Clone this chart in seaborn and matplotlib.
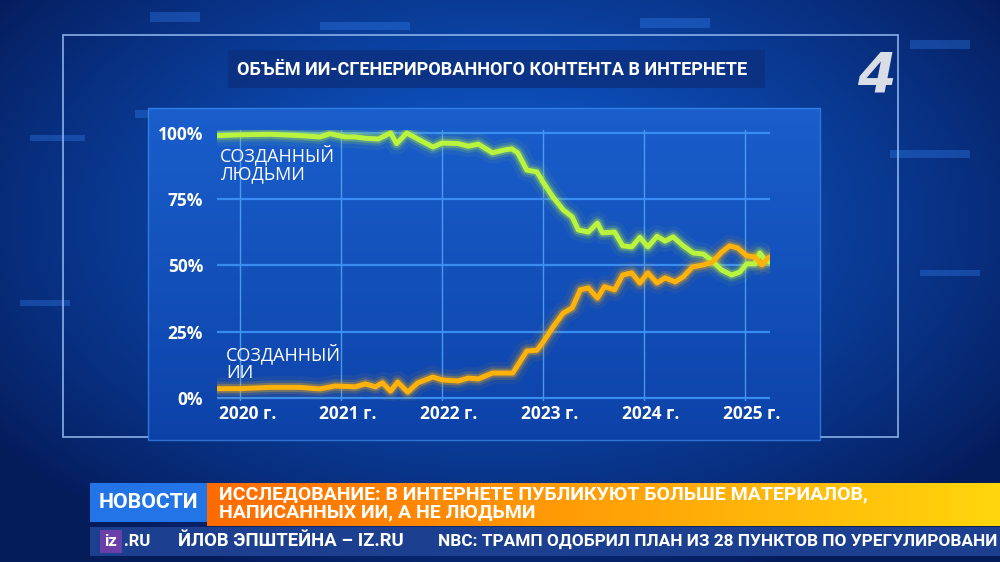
import numpy as np
import pandas as pd
import matplotlib.pyplot as plt
import matplotlib.patches as mpatches
import matplotlib.transforms as mtransforms
import seaborn as sns

# Данные (доля контента, %)
human_years = [2019.78, 2020.00, 2020.30, 2020.59, 2020.79, 2020.89, 2021.04, 2021.14,
               2021.24, 2021.37, 2021.49, 2021.55, 2021.65, 2021.76, 2021.91, 2022.00,
               2022.16, 2022.26, 2022.36, 2022.50, 2022.62, 2022.69, 2022.75, 2022.84,
               2022.94, 2023.00, 2023.10, 2023.20, 2023.29, 2023.35, 2023.45, 2023.54,
               2023.59, 2023.71, 2023.79, 2023.88, 2023.96, 2024.04, 2024.13, 2024.21,
               2024.29, 2024.39, 2024.49, 2024.59, 2024.67, 2024.77, 2024.87, 2024.95,
               2025.02, 2025.10, 2025.15, 2025.20, 2025.25]
human_share = [99.0, 99.3, 99.5, 99.0, 98.5, 99.7, 98.5, 98.5,
               98.0, 97.7, 100.0, 96.0, 100.0, 97.7, 94.7, 96.2,
               96.0, 95.0, 95.8, 92.5, 93.6, 94.0, 92.5, 86.0,
               85.3, 81.5, 75.8, 71.0, 68.3, 63.4, 62.6, 66.0,
               62.3, 62.6, 57.4, 57.0, 60.6, 57.0, 61.0, 59.2,
               60.8, 57.4, 54.7, 54.3, 52.0, 48.3, 46.4, 47.5,
               50.6, 50.6, 54.7, 52.0, 51.3]

ai_years = [2019.78, 2020.00, 2020.30, 2020.59, 2020.79, 2020.94, 2021.14, 2021.24,
            2021.34, 2021.41, 2021.49, 2021.56, 2021.66, 2021.76, 2021.91, 2022.00,
            2022.16, 2022.26, 2022.36, 2022.50, 2022.70, 2022.84, 2022.94, 2023.00,
            2023.10, 2023.20, 2023.29, 2023.37, 2023.45, 2023.54, 2023.61, 2023.71,
            2023.79, 2023.88, 2023.96, 2024.04, 2024.13, 2024.21, 2024.31, 2024.39,
            2024.48, 2024.59, 2024.68, 2024.77, 2024.85, 2024.93, 2025.02, 2025.10,
            2025.17, 2025.22, 2025.25]
ai_share = [3.5, 3.5, 4.0, 4.0, 3.4, 4.5, 4.2, 5.3,
            4.2, 5.7, 2.6, 6.0, 2.2, 5.7, 7.9, 6.8,
            6.4, 7.5, 7.2, 9.4, 9.4, 17.7, 18.0, 21.0,
            26.8, 32.0, 34.0, 40.8, 41.5, 37.7, 42.0, 40.8,
            46.4, 47.2, 43.4, 47.2, 43.4, 45.3, 43.8, 45.7,
            49.4, 50.2, 51.3, 55.0, 57.4, 56.6, 53.6, 53.2,
            50.2, 52.5, 53.2]

year_ticks = [2020, 2021, 2022, 2023, 2024, 2025]
year_labels = ['2020 г.', '2021 г.', '2022 г.', '2023 г.', '2024 г.', '2025 г.']
pct_ticks = [0, 25, 50, 75, 100]
pct_labels = ['0%', '25%', '50%', '75%', '100%']

title = 'ОБЪЁМ ИИ-СГЕНЕРИРОВАННОГО КОНТЕНТА В ИНТЕРНЕТЕ'
headline = ['ИССЛЕДОВАНИЕ: В ИНТЕРНЕТЕ ПУБЛИКУЮТ БОЛЬШЕ МАТЕРИАЛОВ,',
            'НАПИСАННЫХ ИИ, А НЕ ЛЮДЬМИ']
ticker = ['ЙЛОВ ЭПШТЕЙНА – IZ.RU', 'NBC: ТРАМП ОДОБРИЛ ПЛАН ИЗ 28 ПУНКТОВ ПО УРЕГУЛИРОВАНИ']

df = pd.concat([
    pd.DataFrame({'year': human_years, 'share': human_share, 'src': 'люди'}),
    pd.DataFrame({'year': ai_years, 'share': ai_share, 'src': 'ии'}),
])
colors = {'люди': '#b9f53f', 'ии': '#ffb20a'}

plt.rcParams['font.family'] = ['Open Sans', 'DejaVu Sans']
narrow = ['Roboto', 'DejaVu Sans']

fig = plt.figure(figsize=(10, 5.62), dpi=100)
renderer = fig.canvas.get_renderer()


def fit_text(ax, x, y, s, width, size, **kw):
    # подгоняем размер шрифта под ширину надписи в пикселях
    t = ax.text(x, y, s, fontsize=size, fontweight='bold', family=narrow, color='white', **kw)
    w = t.get_window_extent(renderer).width
    t.set_fontsize(size * width / w)
    return t


# фон студии
bg = fig.add_axes([0, 0, 1, 1])
bg.set_xlim(0, 1000)
bg.set_ylim(562, 0)
bg.axis('off')
yy, xx = np.mgrid[0:562, 0:1000]
r = np.sqrt(((xx - 500) / 620) ** 2 + ((yy - 220) / 380) ** 2)
t = np.clip(1 - r, 0, 1) ** 0.9
dark = np.array([0.02, 0.11, 0.36])
bright = np.array([0.06, 0.38, 0.86])
img = dark + (bright - dark) * t[..., None]
bg.imshow(img, extent=(0, 1000, 562, 0), aspect='auto', zorder=0)

for x0, y0, w, h in [(150, 12, 50, 10), (320, 22, 90, 8), (640, 18, 70, 10), (910, 40, 60, 9),
                     (135, 110, 70, 8), (30, 135, 55, 6), (890, 150, 80, 8), (20, 300, 50, 6),
                     (920, 270, 60, 6)]:
    bg.add_patch(mpatches.Rectangle((x0, y0), w, h, color='#3b8cff', alpha=0.3, lw=0, zorder=1))

# рамка
bg.add_patch(mpatches.Rectangle((63, 35), 835, 402, fill=False, ec='#9cc4f5', lw=1.3, alpha=0.8, zorder=2))

# панель графика
panel = np.linspace(0, 1, 100)[:, None, None]
top_c = np.array([0.10, 0.37, 0.80])
bot_c = np.array([0.05, 0.26, 0.66])
bg.imshow(top_c + (bot_c - top_c) * panel, extent=(148, 820, 440, 108), aspect='auto', zorder=2)
bg.add_patch(mpatches.Rectangle((148, 108), 672, 332, fill=False, ec='#3f8ef0', lw=1.0, alpha=0.7, zorder=3))

# заголовок
bg.add_patch(mpatches.Rectangle((228, 50), 537, 38, color='#0c3080', alpha=0.85, lw=0, zorder=3))
fit_text(bg, 492, 70, title, 513, 14, ha='center', va='center', zorder=4)

# логотип канала
bg.text(876, 76, '4', color='#d9dde6', fontsize=40, fontweight='bold', style='italic',
        family=['DejaVu Sans'], ha='center', va='center', zorder=4)

# плашки новостей
bg.add_patch(mpatches.Rectangle((90, 483), 117, 39, color='#2374e6', lw=0, zorder=3))
fit_text(bg, 148, 503, 'НОВОСТИ', 100, 14, ha='center', va='center', zorder=4)
grad = np.linspace(0, 1, 400)[None, :, None]
left_c = np.array([1.0, 0.42, 0.0])
right_c = np.array([1.0, 0.84, 0.05])
bg.imshow(left_c + (right_c - left_c) * grad, extent=(207, 1000, 526, 483), aspect='auto', zorder=3)
h1 = fit_text(bg, 219, 494, headline[0], 650, 14, va='center', zorder=4)
bg.text(219, 512, headline[1], fontsize=h1.get_fontsize(), fontweight='bold', family=narrow,
        color='white', va='center', zorder=4)

bg.add_patch(mpatches.Rectangle((90, 527), 910, 29, color='#1c3f90', lw=0, zorder=3))
bg.add_patch(mpatches.Rectangle((100, 530), 22, 23, color='#6a40a8', lw=0, zorder=4))
bg.text(111, 541, 'iz', color='white', fontsize=12, fontweight='bold', family=narrow,
        ha='center', va='center', zorder=5)
bg.text(124, 541, '.RU', color='white', fontsize=12, fontweight='bold', family=narrow,
        va='center', zorder=5)
fit_text(bg, 178, 541, ticker[0], 224, 13, va='center', zorder=5)
fit_text(bg, 438, 541, ticker[1], 555, 13, va='center', zorder=5)
bg.set_xlim(0, 1000)
bg.set_ylim(562, 0)

# сам график
ax = fig.add_axes([0.217, 1 - 400.6 / 562, 0.553, 270.3 / 562])
ax.set_facecolor('none')
ax.set_zorder(5)

for lw, alpha in [(16, 0.06), (10, 0.14), (6.5, 0.3)]:
    sns.lineplot(data=df, x='year', y='share', hue='src', palette=colors, linewidth=lw,
                 alpha=alpha, legend=False, errorbar=None, ax=ax)
sns.lineplot(data=df, x='year', y='share', hue='src', palette=colors, linewidth=3.6,
             legend=False, errorbar=None, ax=ax)

ax.set_xlim(2019.77, 2025.25)
ax.set_ylim(-1, 101)
ax.set_yticks(pct_ticks)
ax.set_yticklabels(pct_labels)
ax.set_xticks(year_ticks)
ax.set_xticklabels(year_labels)
ax.set_xlabel('')
ax.set_ylabel('')
ax.grid(axis='y', color='#3d93f7', lw=1.6, alpha=0.9)
ax.grid(axis='x', color='#5cb3ff', lw=1.0, alpha=0.75)
ax.set_axisbelow(True)
for s in ax.spines.values():
    s.set_visible(False)
ax.tick_params(axis='both', length=0, colors='white', labelsize=12.5)
ax.tick_params(axis='y', pad=10)
ax.tick_params(axis='x', pad=3)
for lab in ax.get_yticklabels() + ax.get_xticklabels():
    lab.set_fontweight('bold')
offset = mtransforms.ScaledTranslation(7 / 100, 0, fig.dpi_scale_trans)
for lab in ax.get_xticklabels():
    lab.set_transform(lab.get_transform() + offset)

ax.text(2019.80, 95.5, 'СОЗДАННЫЙ\nЛЮДЬМИ', color='white', fontsize=13, va='top',
        linespacing=0.95)
ax.text(2019.86, 20.5, 'СОЗДАННЫЙ\nИИ', color='white', fontsize=13, va='top',
        linespacing=0.95)

fig.savefig('out.png', dpi=100)
